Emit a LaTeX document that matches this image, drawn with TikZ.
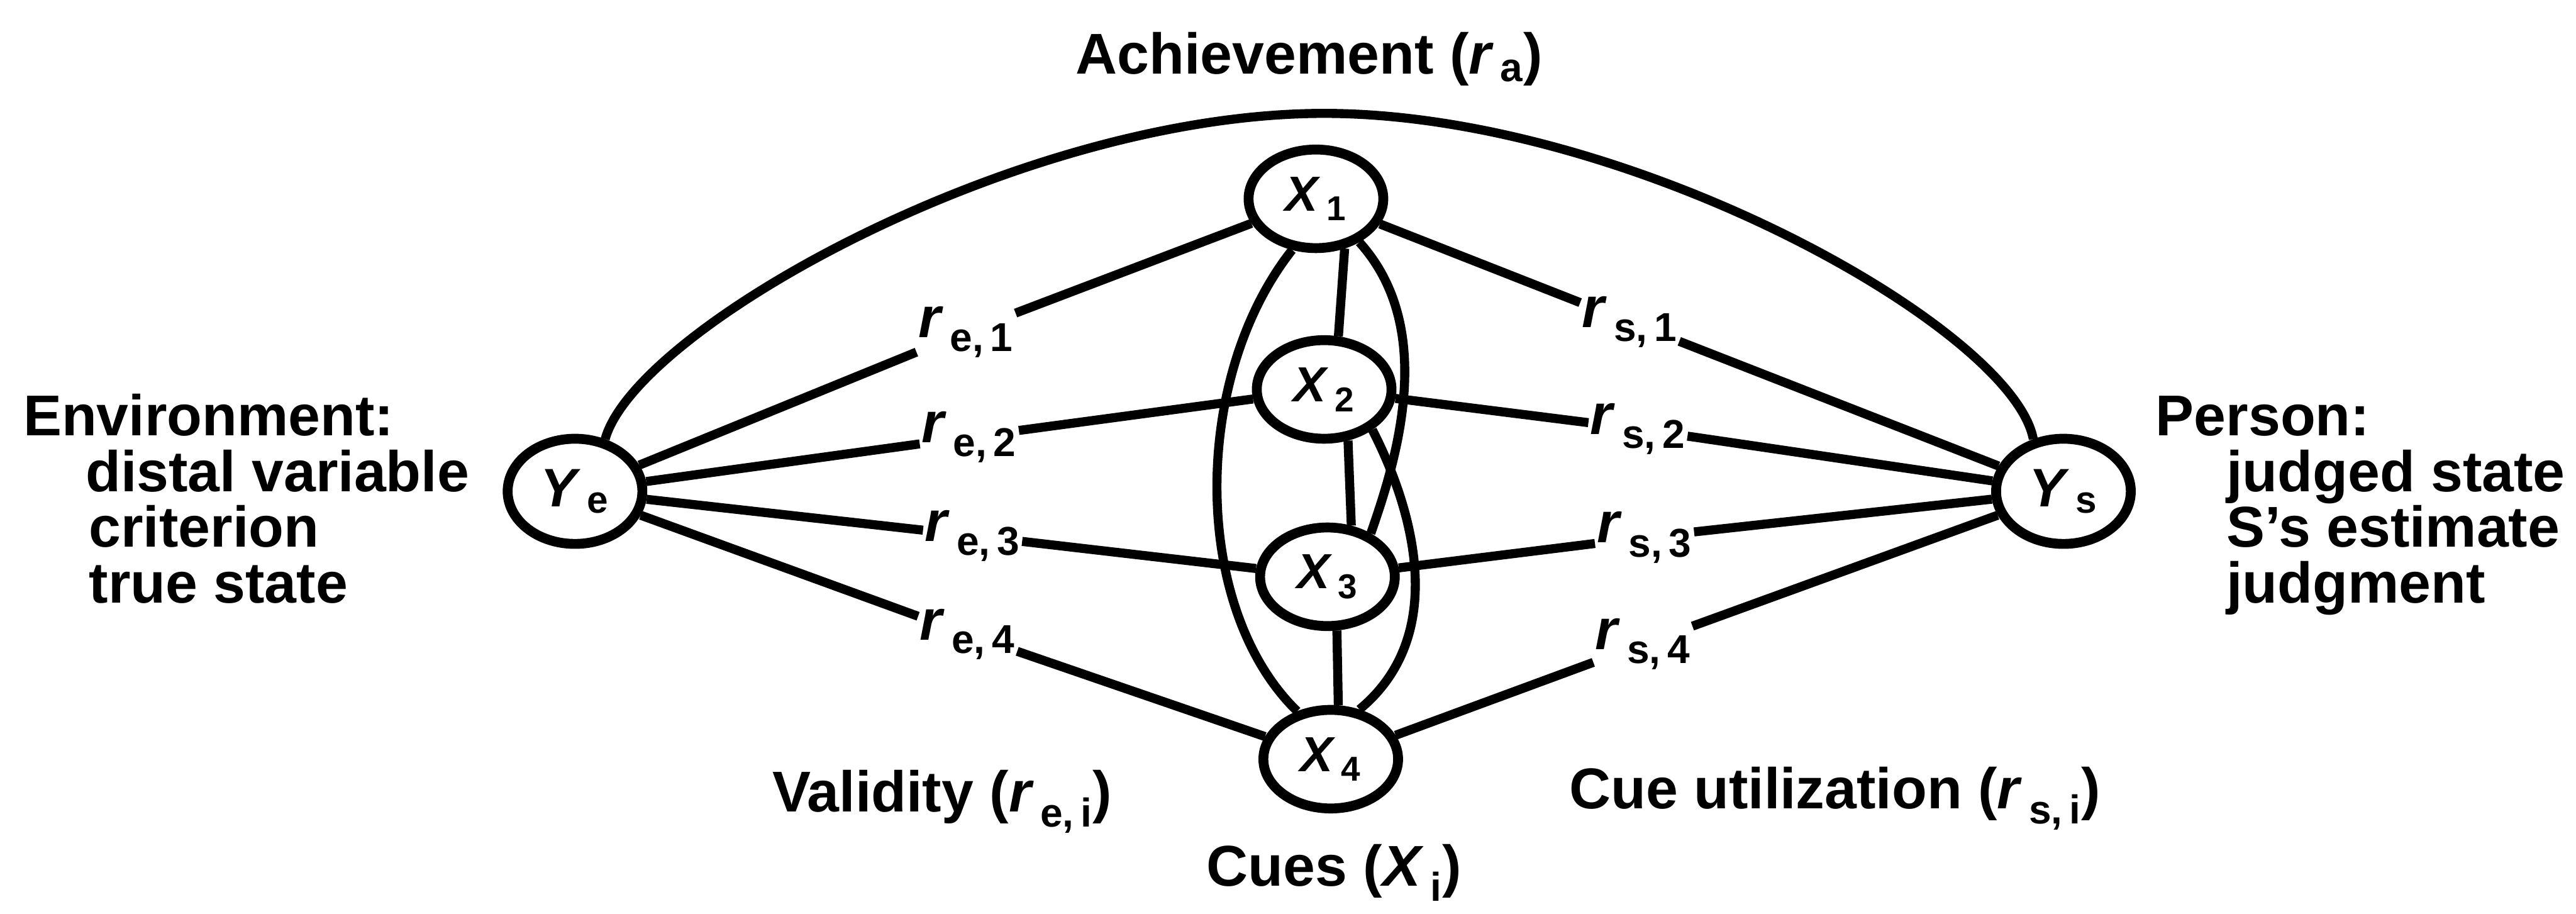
\documentclass[tikz,border=0pt]{standalone}
\usepackage{fontspec}
\setmainfont{Liberation Sans}
\usetikzlibrary{shapes.geometric}
\newcommand{\vsub}[2]{\textit{#1}\textsubscript{\,#2}}
\begin{document}
\begin{tikzpicture}[x=1pt,y=-1pt,
  every node/.style={font=\bfseries\fontsize{35}{38}\selectfont},
  cue/.style={ellipse,draw,line width=6pt,minimum width=82pt,minimum height=60pt,inner sep=0pt,
    font=\bfseries\fontsize{30}{32}\selectfont},
  judge/.style={ellipse,draw,line width=6pt,minimum width=82pt,minimum height=64pt,inner sep=0pt,
    font=\bfseries\fontsize{33}{35}\selectfont},
  link/.style={line width=5.5pt},
  lab/.style={inner sep=1pt},
  txt/.style={anchor=base west,inner sep=0pt}]
\useasboundingbox (0,0) rectangle (1568,556);
% nodes
\node[judge] (Ye) at (350,299) {\vsub{Y}{e}};
\node[judge] (Ys) at (1256,299) {\vsub{Y}{s}};
\node[cue] (X1) at (801,121) {\vsub{X}{1}};
\node[cue] (X2) at (806,237) {\vsub{X}{2}};
\node[cue] (X3) at (808,351) {\vsub{X}{3}};
\node[cue] (X4) at (810,462) {\vsub{X}{4}};
% labels on lines
\node[lab] (le1) at (588,202) {\vsub{r}{e,\,1}};
\node[lab] (le2) at (590,266) {\vsub{r}{e,\,2}};
\node[lab] (le3) at (592,326) {\vsub{r}{e,\,3}};
\node[lab] (le4) at (589,386) {\vsub{r}{e,\,4}};
\node[lab] (ls1) at (992,196) {\vsub{r}{s,\,1}};
\node[lab] (ls2) at (997,261) {\vsub{r}{s,\,2}};
\node[lab] (ls3) at (1001,327) {\vsub{r}{s,\,3}};
\node[lab] (ls4) at (1000,392) {\vsub{r}{s,\,4}};
% texts
\node[anchor=base,inner sep=0pt] (ach) at (797,45) {Achievement (\vsub{r}{a})};
\node[txt] (env) at (14,265) {Environment:};
\node[txt] (env1) at (52,299) {distal variable};
\node[txt] (env2) at (54,333) {criterion};
\node[txt] (env3) at (54,367) {true state};
\node[txt] (per) at (1312,265) {Person:};
\node[txt] (per1) at (1355,299) {judged state};
\node[txt] (per2) at (1355,333) {S's estimate};
\node[txt] (per3) at (1355,367) {judgment};
\node[anchor=base east,inner sep=0pt] (val) at (677,494) {Validity (\vsub{r}{e,\,i})};
\node[anchor=base west,inner sep=0pt] (cut) at (955,492) {Cue utilization (\vsub{r}{s,\,i})};
\node[anchor=base,inner sep=0pt] (cues) at (812,539) {Cues (\vsub{X}{i})};
% achievement arc
\coordinate (apex) at (806,69);
\draw[link] (Ye.60) .. controls (387,200) and (620,69) .. (apex)
            .. controls (992,69) and (1225,200) .. (Ys.120);
% cue lines
\foreach \i in {1,...,4}{
  \draw[link] (Ye) -- (le\i);
  \draw[link] (le\i) -- (X\i);
  \draw[link] (X\i) -- (ls\i);
  \draw[link] (ls\i) -- (Ys);
}
% intercorrelations among cues
\draw[link] (X1.245) .. controls (725,230) and (725,370) .. (X4.125);
\draw[link] (X1.315) .. controls (875,200) and (850,280) .. (X3.45);
\draw[link] (X2.320) .. controls (850,290) and (890,380) .. (X4.60);
\draw[link] (X1.300) -- (X2.75);
\draw[link] (X2.295) -- (X3.65);
\draw[link] (X3.280) -- (X4.82);
\end{tikzpicture}
\end{document}
